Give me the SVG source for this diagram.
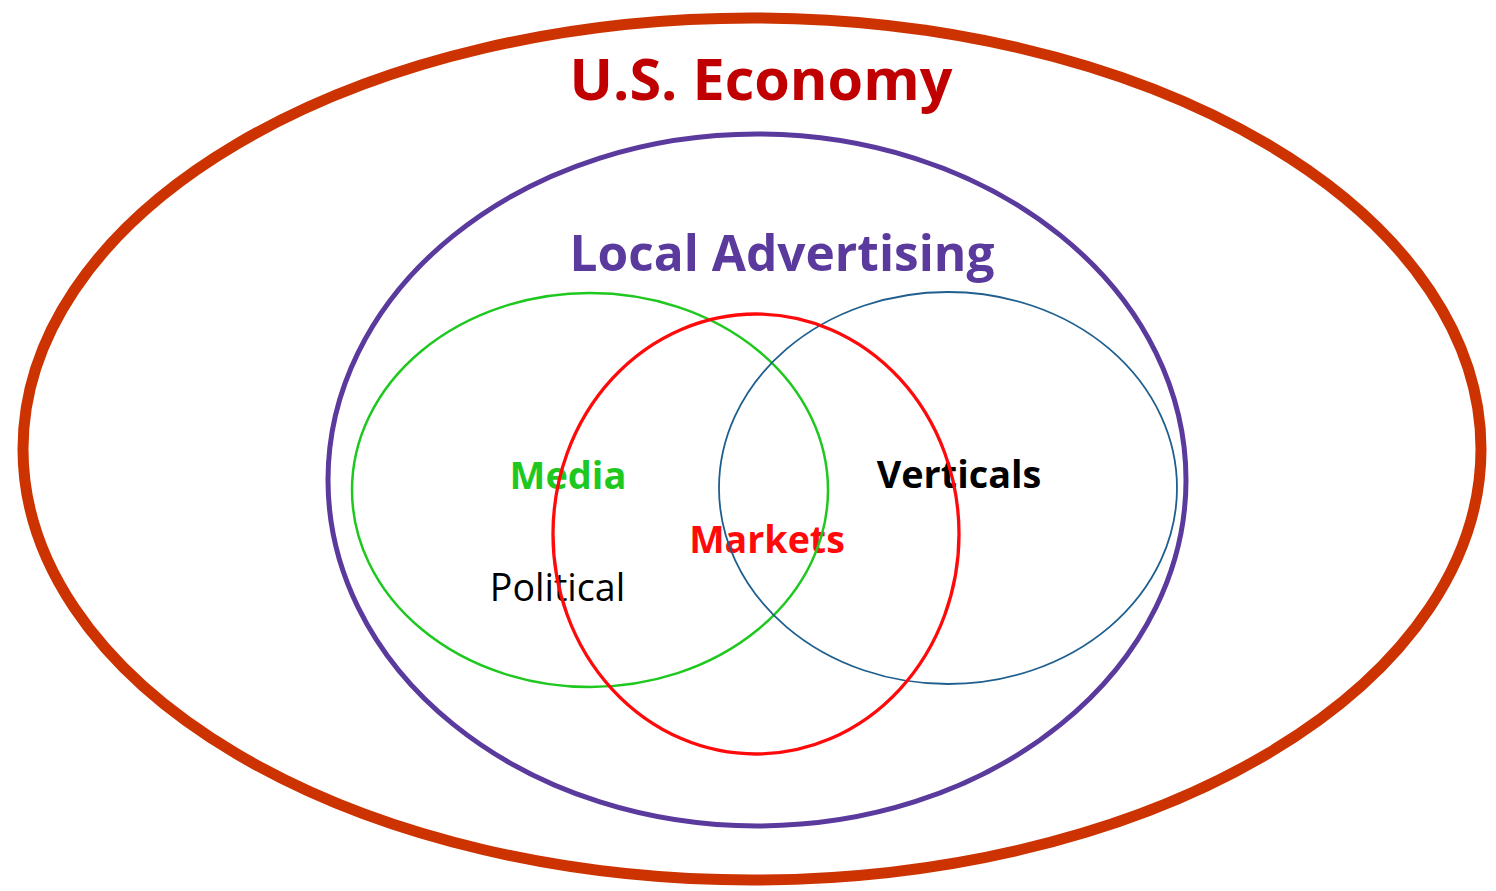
<svg xmlns="http://www.w3.org/2000/svg" width="1496" height="891" viewBox="0 0 1496 891">
<style>
text{font-family:"Open Sans","Noto Sans","Liberation Sans",sans-serif;font-weight:bold;text-anchor:middle}
.ring{fill:none}
</style>
<rect width="1496" height="891" fill="#ffffff"/>
<g id="labels">
<text x="761" y="100" font-size="57.5" fill="#c00000">U.S. Economy</text>
<text x="782" y="271" font-size="49.6" fill="#5b3a9e">Local Advertising</text>
<text x="568" y="489" font-size="38" fill="#1ec81e">Media</text>
<text x="767" y="553" font-size="37.6" fill="#ff0a0a">Markets</text>
<text x="959" y="488" font-size="37.8" fill="#000000">Verticals</text>
<text x="557.5" y="601" font-size="37.6" fill="#000000" style="font-weight:normal">Political</text>
</g>
<g id="us-economy"><ellipse class="ring" cx="752" cy="449" rx="729" ry="431" stroke="#cc3300" stroke-width="11"/></g>
<g id="local-advertising"><ellipse class="ring" cx="757" cy="480" rx="429" ry="346" stroke="#5b3a9e" stroke-width="5"/></g>
<g id="media"><ellipse class="ring" cx="590" cy="490" rx="238" ry="197" stroke="#1ec81e" stroke-width="2.5"/></g>
<g id="verticals"><ellipse class="ring" cx="948" cy="488" rx="229" ry="196" stroke="#1f5f8f" stroke-width="1.8"/></g>
<g id="markets"><ellipse class="ring" cx="756" cy="534" rx="203" ry="220" stroke="#ff0a0a" stroke-width="3.3"/></g>
<g id="connectors"></g>
</svg>
